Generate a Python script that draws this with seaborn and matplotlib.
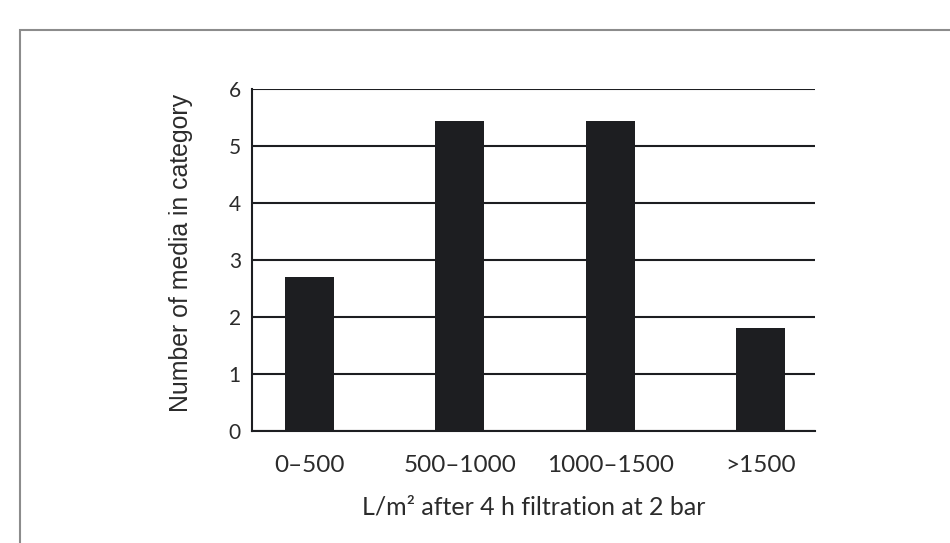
import numpy as np
import pandas as pd
import matplotlib
matplotlib.use("Agg")
import matplotlib.pyplot as plt
import matplotlib.patches as mpatches
import seaborn as sns

# ── DATA ─────────────────────────────────────────────────────────────────────
categories = ["0–500", "500–1000", "1000–1500", ">1500"]
media_counts = [2.71, 5.43, 5.43, 1.80]
y_ticks = [0, 1, 2, 3, 4, 5, 6]

df = pd.DataFrame({"range": categories, "count": media_counts})

sns.set_theme(style="white")
plt.rcParams["font.family"] = ["Lato", "DejaVu Sans"]

INK = "#1d1e21"
TEXT = "#2b2b2b"

fig = plt.figure(figsize=(9.5, 5.43), dpi=100)
ax = fig.add_axes([252 / 950, 1 - 431 / 543, (815 - 252) / 950, (431 - 89) / 543])

sns.barplot(data=df, x="range", y="count", color=INK, saturation=1,
            width=0.325, errorbar=None, ax=ax, zorder=3)
for p in ax.patches:
    p.set_edgecolor("none")

ax.set_xlim(-0.382, 3.362)
ax.set_ylim(0, 6)
ax.set_yticks(y_ticks)
ax.yaxis.grid(True, color=INK, linewidth=1.5, zorder=0)
ax.set_axisbelow(True)

for s in ["top", "right"]:
    ax.spines[s].set_visible(False)
for s in ["left", "bottom"]:
    ax.spines[s].set_color(INK)
    ax.spines[s].set_linewidth(1.5)

# category labels centred on bars, separator ticks between them
ax.tick_params(axis="x", which="major", length=0, pad=17)
ax.set_xticks(range(len(categories)))
ax.set_xticklabels(categories, fontsize=17.5, color=TEXT)
ax.set_xticks([-0.382, 0.416, 1.49, 2.61, 3.362], minor=True)
ax.tick_params(axis="x", which="minor", length=6.5, width=1.5, color=INK, direction="out")

ax.tick_params(axis="y", length=0, pad=8, labelsize=15, labelcolor=TEXT)

ax.set_xlabel("L/m² after 4 h filtration at 2 bar", fontsize=18, color=TEXT, labelpad=14)
ax.set_ylabel("Number of media in category", fontsize=17.9, color=TEXT,
              family=["Liberation Sans", "DejaVu Sans"])
ax.yaxis.set_label_coords(-0.105, 0.522)

# light grey frame around the figure
fig.add_artist(mpatches.Rectangle((20 / 950, -0.1), 1.2, 1 - 30 / 543 + 0.1,
                                  transform=fig.transFigure, fill=False,
                                  edgecolor="#8c8c8c", linewidth=1.5))

fig.savefig("out.png", dpi=100, facecolor="white")
